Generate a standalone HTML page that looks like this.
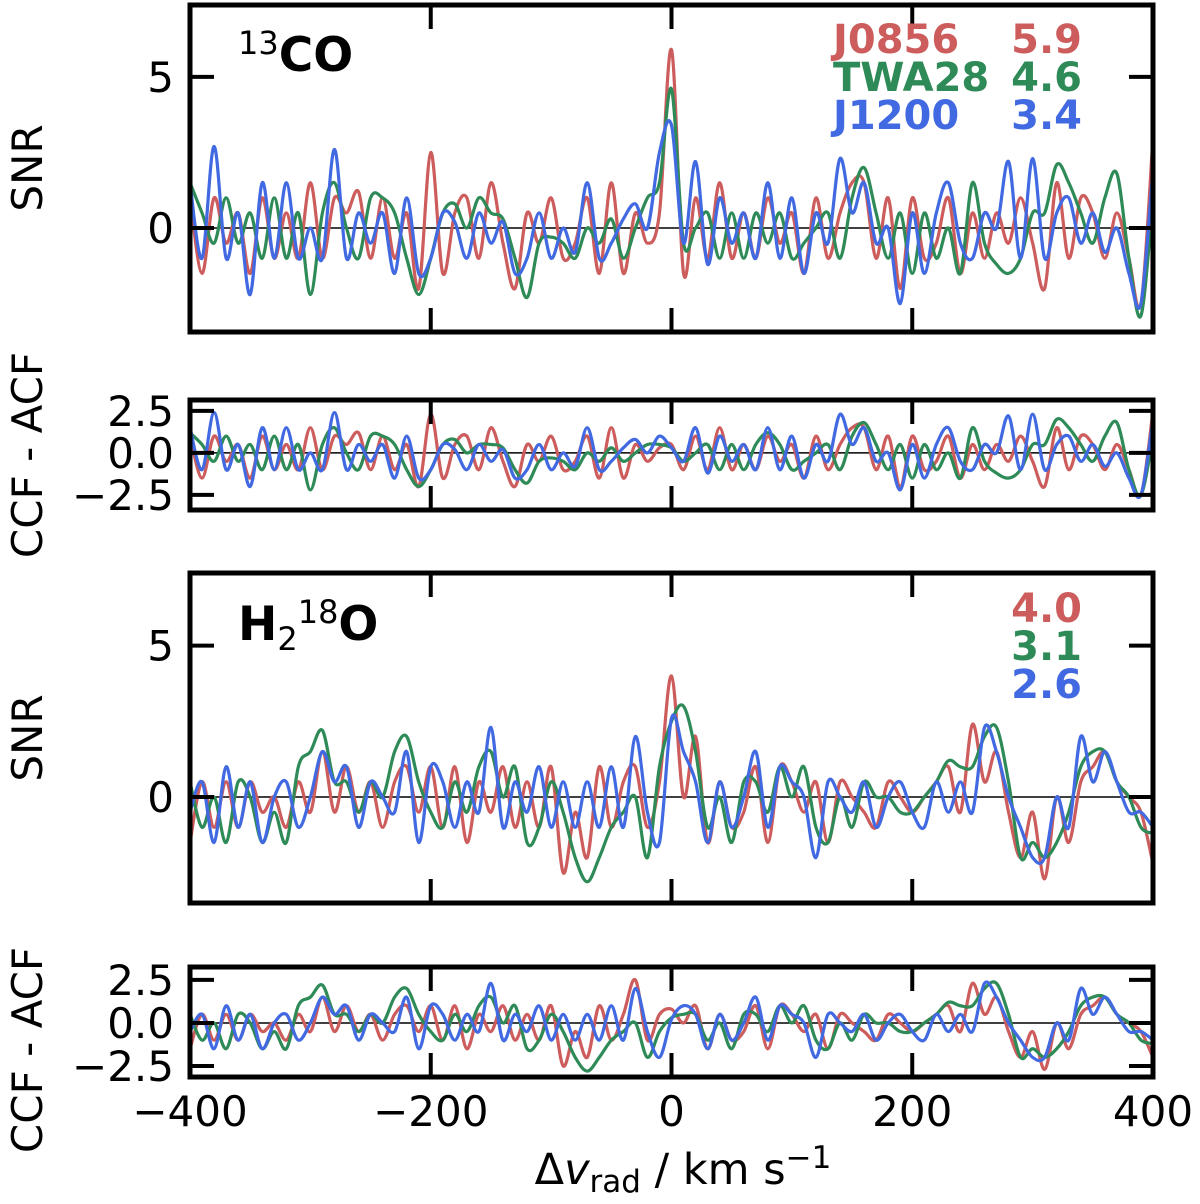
<!DOCTYPE html>
<html><head><meta charset="utf-8"><style>
body{margin:0;background:#fff}
svg{display:block;font-family:"DejaVu Sans","Liberation Sans",sans-serif}
</style></head><body>
<svg id="chart" width="1200" height="1204" viewBox="0 0 1200 1204"></svg>
<script>
const velocities=[];for(let v=-400;v<=400;v+=10)velocities.push(v);
const co_J0856=[1,-1.5,1,-0.5,0.5,-1.5,1,-1,0.5,-1,1.5,-1,1,0.5,1.2,-1,1,-1,0.5,-2,2.5,-1.5,0.5,1,-1,1.5,-0.5,-2,0.5,-0.5,1,-1,-0.5,1,-1.5,1.5,-1.5,0.5,-0.5,0.5,5.9,-1.5,1,-1,1.5,-1,0.5,-1,1,-0.5,0.5,-1.5,1,-1,0.5,1.5,1.5,-1,1,-2,1,-1,-0.5,1,-1.5,0.5,-1,0.5,-0.5,1,-0.5,-2,1.5,-1,1,0.5,-1,0.5,-1,-2.5,3];
const co_TWA28=[1.5,0.5,-0.5,1,-0.5,0.5,-1,1,-1,0.5,-2.2,0.5,1.5,0,-1,1,1,0.5,-1,-2.2,-1,0.5,0.8,0,1,0.5,0.3,-1,-2.3,-0.5,-0.3,-0.5,-1,0,-0.5,0.3,-1,0,1,1.5,4.6,-0.5,0,0.5,-1,0.5,-1,0.5,-0.5,0.5,-1,-0.5,0,0.5,-1,1,2,0.5,-1,0.5,-1.5,0.5,-1,0,-1.5,1.5,-0.5,-1.2,-1.5,-1,0.5,0.5,2.1,1.5,0.5,-0.5,1,1.8,-1,-2.9,1];
const co_J1200=[1.5,-1,2.7,-1,0.5,-2.2,1.5,-1,1.5,-1,0,-1,2.6,-1,0.5,-0.5,0.5,-1.5,1,-1.5,-1,0.5,0.2,-1,0.5,-0.5,0.2,-1.5,-1,0.5,-1,0,-0.8,1.5,-1,-0.5,0.3,0.8,0,2.5,3.4,-0.5,2.2,-1.2,1,-0.5,0.5,-1,1.5,-1,1,-1.5,0.5,-0.5,2.3,0.5,1.5,-0.5,0,-2.5,0.5,-1.5,0.5,1.5,-0.5,-1,0.5,0,2.2,-1,2.3,-1,0.5,1,-0.5,0.5,-0.8,0,-1.5,-2.5,2];
const coRes_J0856=[1,-1.5,1,-0.5,0.5,-1.5,1,-1,0.5,-1,1.5,-1,1,0.5,1.2,-1,1,-1,0.5,-2,2.3,-1.5,0.5,1,-1,1.5,-0.5,-2,0.5,-0.5,1,-1,-0.5,1,-1.5,1.5,-1.5,0.5,-0.5,0.3,0.5,-1,1,-1,1.5,-1,0.5,-1,1,-0.5,0.5,-1.5,1,-1,0.5,1.5,1.5,-1,1,-2,1,-1,-0.5,1,-1.5,0.5,-1,0.5,-0.5,1,-0.5,-2,1.5,-1,1,0.5,-1,0.5,-1,-2.5,2.5];
const coRes_TWA28=[1.2,0.5,-0.5,1,-0.5,0.5,-1,1,-1,0.5,-2.2,0.5,1.5,0,-1,1,1,0.5,-1,-2,-1,0.5,0.8,0,0.5,0.5,0.3,-1,-1.8,-0.5,-0.3,-0.5,-1,0,-0.5,0.3,-0.5,0,0.5,0.5,0.3,-0.5,0,0.5,-1,0.5,-1,0.5,1.2,0.5,-1,-0.5,0,0.5,-1,1,1.8,0.5,-1,0.5,-1.5,0.5,-1,0,-1.5,1.5,-0.5,-1.2,-1.5,-1,0.5,0.5,2,1.5,0.5,-0.5,1,1.8,-1,-2.5,1];
const coRes_J1200=[1.5,-1,2.4,-1,0.5,-2,1.5,-1,1.5,-1,0,-1,2.4,-1,0.5,-0.5,0.5,-1.5,1,-1.5,-1,0.5,0.2,-1,0.5,-0.5,0.2,-1.5,-1,0.5,-1,0,-0.8,1.5,-1,-0.5,0.3,0.8,0,1,0.3,-0.5,1.5,-1.2,1,-0.5,0.5,-1,1.5,-1,1,-1.5,0.5,-0.5,2.3,0.5,1.5,-0.5,0,-2.2,0.5,-1.5,0.5,1.5,-0.5,-1,0.5,0,2.2,-1,2.3,-1,0.5,1,-0.5,0.5,-0.8,0,-1.5,-2.5,2];
const h2o_J0856=[-1.5,0.5,-1,0.5,-1,0.5,-0.5,0,-1,0.5,-0.5,1.5,-0.5,1,-0.5,0.5,-1,0.5,1,-0.5,1,-1,1,-1.5,0.5,-0.5,1,-1,0.5,-1,1,-2.5,-0.5,-2,1,-1,0.5,1,-1,0.5,4.0,0,2,-1.5,0.5,-1,-0.5,1,-1.5,1,0.5,-0.5,0.5,-1.5,0.5,0,-0.5,-1,0.5,0,-0.5,0,0.5,1,-0.5,2.4,0.5,1.5,-0.5,-2,-0.5,-2.7,0,-1.5,0.5,1,1.5,0.5,0,-0.5,-2.2];
const h2o_TWA28=[0.5,-1,0,-1.5,0.5,0,-1.5,-0.5,-1.5,1,1.5,2.2,0.5,0.5,-0.5,0.5,0,1.5,2,0.5,-0.5,-1,0.5,-0.5,1,1.5,0,1,-1.5,-1,0.5,-0.5,-2,-2.8,-2,-1,-0.5,0,-2,1,2.5,3,1.5,-1,0,-1.5,0.5,0.5,-0.5,1,0,1,-1,-1.5,0,-1,0.5,0,0,-0.5,-0.5,0,0.5,1.2,1,1,2,2.3,0.5,-2,-1.5,-2,-1.5,-0.5,1,1.5,1.5,0.5,0,-1,-1.2];
const h2o_J1200=[-0.5,0.5,-1.5,1,-1,0.5,-1.5,0,0.5,-1,0,1.5,0.5,1,-1,0.5,0,-0.5,1.5,-1.5,1,0.5,-1,0.5,-0.5,2.3,-1,0.5,-0.5,1,-1,0.5,-1,0.5,-1,1,-1,2,-0.5,-1.5,2.6,1.5,0.5,-1.5,0.5,-1,0,1.5,-1,1,0.5,0,-2,0.5,0,-0.5,0.5,-1,0,0.5,-0.5,-1,0.5,-0.5,0.5,-0.5,2.3,1.5,0,-1,-2,-2,0,-1,2,0.5,1.5,0.5,-0.5,-0.5,-1];
const h2oRes_J0856=[-1.5,0.5,-1,0.5,-1,0.5,-0.5,0,-1,0.5,-0.5,1.5,-0.5,1,-0.5,0.5,-1,0.5,1,-0.5,1,-1,1,-1.5,0.5,-0.5,1,-1,0.5,-1,1,-2.5,-0.5,-2,1,-1,0.5,2.5,-1,0.5,0.8,0,1,-1.5,0.5,-1,-0.5,1,-1.5,1,0.5,-0.5,0.5,-1.5,0.5,0,-0.5,-1,0.5,0,-0.5,0,0.5,1,-0.5,2.3,0.5,1.5,-0.5,-2,-0.5,-2.7,0,-1.5,0.5,1,1.5,0.5,0,-0.5,-2];
const h2oRes_TWA28=[0.5,-1,0,-1.5,0.5,0,-1.5,-0.5,-1.5,1,1.5,2.2,0.5,0.5,-0.5,0.5,0,1.5,2,0.5,-0.5,-1,0.5,-0.5,1,1.5,0,1,-1.5,-1,0.5,-0.5,-2,-2.8,-2,-1,-0.5,0,-2,-0.5,0.3,0.5,0.5,-1,0,-1.5,0.5,0.5,-0.5,1,0,1,-1,-1.5,0,-1,0.5,0,0,-0.5,-0.5,0,0.5,1.2,1,1,2,2.3,0.5,-2,-1.5,-2,-1.5,-0.5,1,1.5,1.5,0.5,0,-1,-1.2];
const h2oRes_J1200=[-0.5,0.5,-1.5,1,-1,0.5,-1.5,0,0.5,-1,0,1.5,0.5,1,-1,0.5,0,-0.5,1.5,-1.5,1,0.5,-1,0.5,-0.5,2.3,-1,0.5,-0.5,1,-1,0.5,-1,0.5,-1,1,-1,2,-0.5,-2,0.2,1,0.5,-1.5,0.5,-1,0,1.5,-1,1,0.5,0,-2,0.5,0,-0.5,0.5,-1,0,0.5,-0.5,-1,0.5,-0.5,0.5,-0.5,2.3,1.5,0,-1,-2,-2,0,-1,2,0.5,1.5,0.5,-0.5,-0.5,-1];
const xTicks=[-400,-200,0,200,400];
const xTickLabels=["\u2212400","\u2212200","0","200","400"];
const snrTicks=[0,5];
const resTicks=[-2.5,0,2.5];
const resTickLabels=["\u22122.5","0.0","2.5"];
const coSNRLabels=[["J0856","5.9"],["TWA28","4.6"],["J1200","3.4"]];
const h2oSNRLabels=["4.0","3.1","2.6"];

const NS="http://www.w3.org/2000/svg";
const svg=document.getElementById('chart');
const COLORS=["#cd5c5c","#2e8b57","#4169e1"];
const X0=190,X1=1153;
const FS=42;
const xs=v=>X0+(v+400)/800*(X1-X0);
function el(tag,attrs,parent,text){const e=document.createElementNS(NS,tag);for(const k in attrs)e.setAttribute(k,attrs[k]);if(text!==undefined)e.textContent=text;(parent||svg).appendChild(e);return e;}
function pathFor(vals,ys){const pts=velocities.map((v,i)=>[xs(v),ys(vals[i])]);let d=`M${pts[0][0]},${pts[0][1]}`;for(let i=0;i<pts.length-1;i++){const p0=pts[Math.max(0,i-1)],p1=pts[i],p2=pts[i+1],p3=pts[Math.min(pts.length-1,i+2)];d+=` C${p1[0]+(p2[0]-p0[0])/6},${p1[1]+(p2[1]-p0[1])/6} ${p2[0]-(p3[0]-p1[0])/6},${p2[1]-(p3[1]-p1[1])/6} ${p2[0]},${p2[1]}`;}return d;}
function panel(name,top,bot,ymin,ymax,series,yt,ytl,ylabel,ylabelY){
  const g=el('g',{},svg);
  
  
  const ys=v=>bot-(v-ymin)/(ymax-ymin)*(bot-top);
  const cid='clip-'+name;
  const cp=el('clipPath',{id:cid},g);el('rect',{x:X0,y:top,width:X1-X0,height:bot-top},cp);
  const zl=el('line',{x1:X0,x2:X1,y1:ys(0),y2:ys(0),stroke:'#000','stroke-width':1.5},g);
  
  
  const names=['j0856','twa28','j1200'];
  series.forEach((s,i)=>{const p=el('path',{d:pathFor(s,ys),fill:'none',stroke:COLORS[i],'stroke-width':3.2,'clip-path':`url(#${cid})`},g);
    
    });
  xTicks.forEach(v=>{const x=xs(v);el('line',{x1:x,x2:x,y1:bot,y2:bot-24,stroke:'#000','stroke-width':4},g);el('line',{x1:x,x2:x,y1:top,y2:top+24,stroke:'#000','stroke-width':4},g);});
  yt.forEach((v,i)=>{const y=ys(v);el('line',{x1:X0,x2:X0+24,y1:y,y2:y,stroke:'#000','stroke-width':4},g);el('line',{x1:X1,x2:X1-24,y1:y,y2:y,stroke:'#000','stroke-width':4},g);
    const t=el('text',{x:174,y:y+15,'text-anchor':'end','font-size':FS},g,ytl[i]);
    
    });
  const f=el('rect',{x:X0,y:top,width:X1-X0,height:bot-top,fill:'none',stroke:'#000','stroke-width':5},g);
  
  
  const yl=el('text',{x:0,y:0,transform:`translate(42,${ylabelY}) rotate(-90)`,'text-anchor':'middle','font-size':FS},g,ylabel);
  
  
  return g;
}
panel('co-snr-panel',5,332,-3.44,7.38,[co_J0856,co_TWA28,co_J1200],snrTicks,["0","5"],'SNR',168);
panel('co-residual-panel',400,510,-3.4,3.15,[coRes_J0856,coRes_TWA28,coRes_J1200],resTicks,resTickLabels,'CCF - ACF',455);
panel('h2o-snr-panel',573,903,-3.5,7.4,[h2o_J0856,h2o_TWA28,h2o_J1200],snrTicks,["0","5"],'SNR',738);
panel('h2o-residual-panel',967,1077,-3.14,3.25,[h2oRes_J0856,h2oRes_TWA28,h2oRes_J1200],resTicks,resTickLabels,'CCF - ACF',1050);
xTicks.forEach((v,i)=>{const t=el('text',{x:xs(v),y:1126,'text-anchor':'middle','font-size':FS},svg,xTickLabels[i]);
  
  });
const xt=el('text',{x:683,y:1184,'text-anchor':'middle','font-size':43},svg);


xt.innerHTML='Δ<tspan font-style="italic">v</tspan><tspan font-size="31" dy="8">rad</tspan><tspan dy="-8"> / km s</tspan><tspan font-size="31" dy="-16">−1</tspan>';
const t1=el('text',{x:238,y:71,'font-size':47,'font-weight':'bold'},svg);


t1.innerHTML='<tspan font-size="32" font-weight="normal" dy="-17">13</tspan><tspan dy="17">CO</tspan>';
const t2=el('text',{x:238,y:640,'font-size':47,'font-weight':'bold'},svg);


t2.innerHTML='H<tspan font-size="32" font-weight="normal" dy="10">2</tspan><tspan font-size="32" font-weight="normal" dy="-27">18</tspan><tspan dy="17">O</tspan>';
coSNRLabels.forEach((l,i)=>{const y=53+i*38;
  const a=el('text',{x:833,y:y,'font-size':40,'font-weight':'bold',fill:COLORS[i]},svg,l[0]);
  
  
  const b=el('text',{x:1082,y:y,'text-anchor':'end','font-size':40,'font-weight':'bold',fill:COLORS[i]},svg,l[1]);
  
  });
h2oSNRLabels.forEach((l,i)=>{const b=el('text',{x:1082,y:622+i*38,'text-anchor':'end','font-size':40,'font-weight':'bold',fill:COLORS[i]},svg,l);
  
  });
</script>
</body></html>
